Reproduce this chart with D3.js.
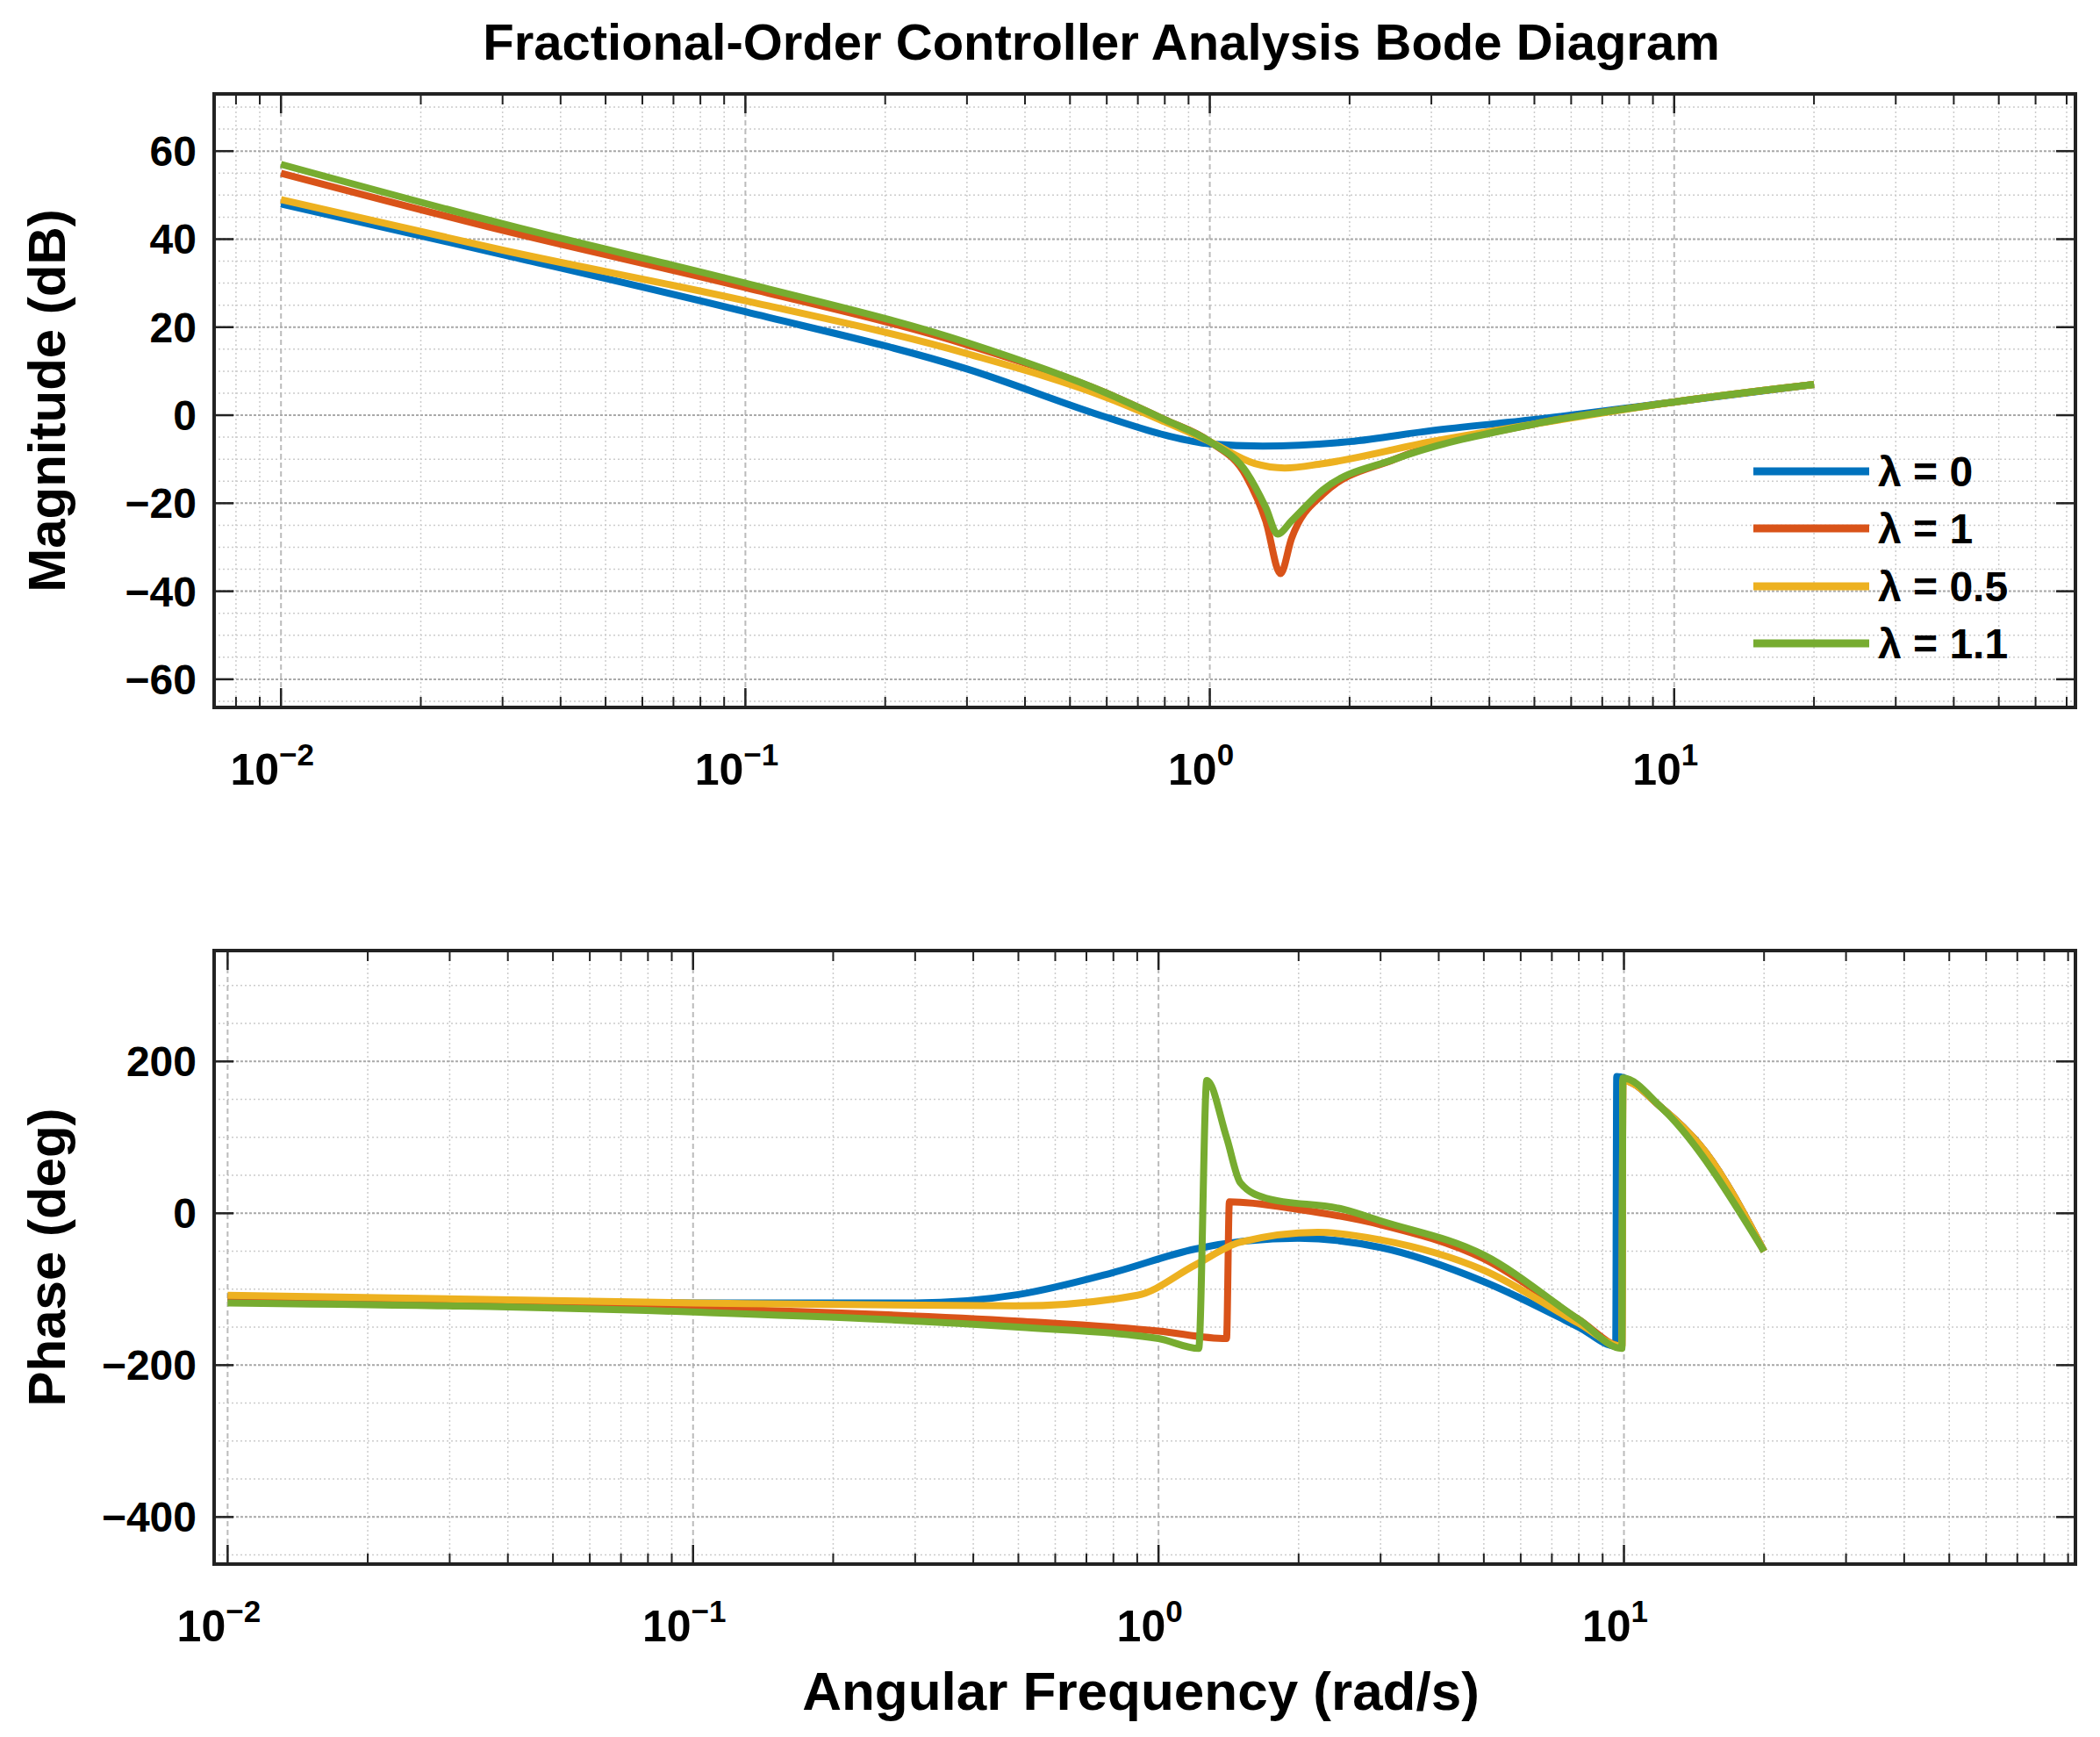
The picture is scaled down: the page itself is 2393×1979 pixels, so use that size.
<!DOCTYPE html>
<html><head><meta charset="utf-8">
<script src="https://cdn.jsdelivr.net/npm/d3@7"></script>
<style>body{margin:0;background:#fff}svg{font-family:"Liberation Sans",Arial,sans-serif;font-weight:bold}</style>
</head><body><div id="chart"></div>
<script>
var series = ["λ = 0", "λ = 1", "λ = 0.5", "λ = 1.1"];
var colors = ["#0072BD", "#D95319", "#EDB120", "#77AC30"];
// magnitude [w, dB]
var magBlue = [[0.01,48],[0.03,36.5],[0.1,23.5],[0.3,10.5],[0.6,-0.5],[0.8,-4.5],[1,-6.5],[1.3,-7],[2,-6],[3,-3.5],[5,-1],[10,3],[20,7]];
var magRed = [[0.01,55],[0.03,42],[0.1,29],[0.3,16],[0.6,5],[0.8,-1],[1,-6],[1.2,-14],[1.32,-24],[1.42,-36],[1.5,-28],[1.75,-18],[2.5,-10],[5,-2],[10,3],[20,7]];
var magYellow = [[0.01,49],[0.03,37.5],[0.1,26],[0.3,14],[0.6,4],[0.8,-1.5],[1,-6],[1.25,-11],[1.45,-12],[1.75,-11],[3,-6],[5,-2],[10,3],[20,7]];
var magGreen = [[0.01,57],[0.03,43.5],[0.1,30],[0.3,16.5],[0.6,5],[0.8,-1],[1,-6],[1.2,-13],[1.32,-21],[1.4,-27],[1.5,-24],[1.75,-17],[2.5,-10],[5,-2],[10,3],[20,7]];
// phase [w, deg]
var phBlue = [[0.01,-110],[0.1,-118],[0.3,-118],[0.5,-107],[0.8,-78],[1.2,-47],[2,-33],[3,-45],[5,-90],[8,-150],[9.6,-175],[9.65,180],[12,140],[15,80],[20,-50]];
var phRed = [[0.01,-112],[0.1,-125],[0.5,-142],[1,-155],[1.4,-165],[1.42,15],[2,5],[3,-15],[5,-60],[8,-140],[9.9,-175],[9.95,175],[12,140],[15,80],[20,-50]];
var phYellow = [[0.01,-108],[0.1,-118],[0.5,-122],[0.9,-108],[1.2,-68],[1.5,-38],[2.2,-25],[3,-35],[5,-75],[8,-145],[9.9,-175],[9.95,175],[12,140],[15,80],[20,-50]];
var phGreen = [[0.01,-118],[0.1,-130],[0.5,-150],[1,-165],[1.22,-178],[1.27,175],[1.4,100],[1.5,40],[1.7,20],[2.5,5],[3,-10],[5,-55],[8,-140],[9.9,-178],[9.95,178],[12,140],[20,-50]];
var magData = [magBlue, magRed, magYellow, magGreen];
var phData = [phBlue, phRed, phYellow, phGreen];
var magTicks = [-60,-40,-20,0,20,40,60];
var phTicks = [-400,-200,0,200];
var decades = [0.01,0.1,1,10];
var expLabels = ["\u22122","\u22121","0","1"];

var W = 2393, H = 1979;
var svg = d3.select("#chart").append("svg").attr("width", W).attr("height", H);

svg.append("text").attr("x", 1255).attr("y", 68).attr("text-anchor", "middle")
  .attr("font-size", 58).text("Fractional-Order Controller Analysis Bode Diagram");

function panel(top, bottom, xdom, ydom, ticks, minorStep, data, ylabel, xlabelOffset) {
  var left = 244, right = 2365;
  var x = d3.scaleLog().domain(xdom).range([left, right]);
  var y = d3.scaleLinear().domain(ydom).range([bottom, top]);
  var g = svg.append("g");
  // grid
  var minors = [];
  for (var e = -3; e <= 2; e++) for (var k = 2; k <= 9; k++) {
    var v = k * Math.pow(10, e);
    if (v > xdom[0] && v < xdom[1]) minors.push(v);
  }
  g.selectAll(".xm").data(minors).join("line").attr("x1", x).attr("x2", x)
    .attr("y1", top).attr("y2", bottom).attr("stroke", "#ccc").attr("stroke-width", 1.5).attr("stroke-dasharray", "2,3");
  var ymin = d3.range(Math.ceil(ydom[0] / minorStep) * minorStep, ydom[1], minorStep);
  g.selectAll(".ym").data(ymin).join("line").attr("y1", y).attr("y2", y)
    .attr("x1", left).attr("x2", right).attr("stroke", "#ccc").attr("stroke-width", 1.5).attr("stroke-dasharray", "2,3");
  g.selectAll(".xM").data(decades).join("line").attr("x1", x).attr("x2", x)
    .attr("y1", top).attr("y2", bottom).attr("stroke", "#bbb").attr("stroke-width", 2).attr("stroke-dasharray", "6,4");
  g.selectAll(".yM").data(ticks).join("line").attr("y1", y).attr("y2", y)
    .attr("x1", left).attr("x2", right).attr("stroke", "#aaa").attr("stroke-width", 2).attr("stroke-dasharray", "3,2");
  // inward ticks
  [top, bottom].forEach(function (yy, i) {
    var s = i ? -1 : 1;
    g.selectAll(null).data(decades).join("line").attr("x1", x).attr("x2", x)
      .attr("y1", yy).attr("y2", yy + s * 22).attr("stroke", "#222").attr("stroke-width", 2.5);
    g.selectAll(null).data(minors).join("line").attr("x1", x).attr("x2", x)
      .attr("y1", yy).attr("y2", yy + s * 12).attr("stroke", "#222").attr("stroke-width", 2);
  });
  [left, right].forEach(function (xx, i) {
    var s = i ? -1 : 1;
    g.selectAll(null).data(ticks).join("line").attr("y1", y).attr("y2", y)
      .attr("x1", xx).attr("x2", xx + s * 22).attr("stroke", "#222").attr("stroke-width", 2.5);
  });
  g.append("rect").attr("x", left).attr("y", top).attr("width", right - left).attr("height", bottom - top)
    .attr("fill", "none").attr("stroke", "#222").attr("stroke-width", 4);
  // lines
  var line = d3.line().x(function (d) { return x(d[0]); }).y(function (d) { return y(d[1]); }).curve(d3.curveMonotoneX);
  g.selectAll(".s").data(data).join("path").attr("d", line).attr("fill", "none")
    .attr("stroke", function (d, i) { return colors[i]; }).attr("stroke-width", 8).attr("stroke-linejoin", "round");
  // tick labels
  g.selectAll(".yl").data(ticks).join("text").attr("x", left - 20).attr("y", function (d) { return y(d) + 17; })
    .attr("text-anchor", "end").attr("font-size", 48).text(function (d) { return d < 0 ? "\u2212" + (-d) : d; });
  var xl = g.selectAll(".xl").data(decades).join("text").attr("x", function (d) { return x(d) - 10; })
    .attr("y", bottom + xlabelOffset).attr("text-anchor", "middle").attr("font-size", 50);
  xl.append("tspan").text("10");
  xl.append("tspan").attr("dy", -22).attr("font-size", 35).text(function (d, i) { return expLabels[i]; });
  svg.append("text").attr("transform", "translate(" + (left - 170) + "," + ((top + bottom) / 2) + ") rotate(-90)")
    .attr("text-anchor", "middle").attr("font-size", 60).text(ylabel);
  return {x: x, y: y};
}

panel(107, 806, [Math.pow(10, -2.144), Math.pow(10, 1.864)], [-66.4, 73], magTicks, 5, magData, "Magnitude (dB)", 88);
panel(1083, 1782, [Math.pow(10, -2.029), Math.pow(10, 1.97)], [-462, 346], phTicks, 50, phData, "Phase (deg)", 88);

svg.append("text").attr("x", 1300).attr("y", 1948).attr("text-anchor", "middle").attr("font-size", 62).text("Angular Frequency (rad/s)");

// legend
var leg = svg.append("g").selectAll("g").data(series).join("g")
  .attr("transform", function (d, i) { return "translate(1998," + [537, 602, 668, 733][i] + ")"; });
leg.append("line").attr("x1", 0).attr("x2", 132).attr("stroke", function (d, i) { return colors[i]; }).attr("stroke-width", 9);
leg.append("text").attr("x", 142).attr("y", 17).attr("font-size", 48).text(function (d) { return d; });
</script></body></html>
